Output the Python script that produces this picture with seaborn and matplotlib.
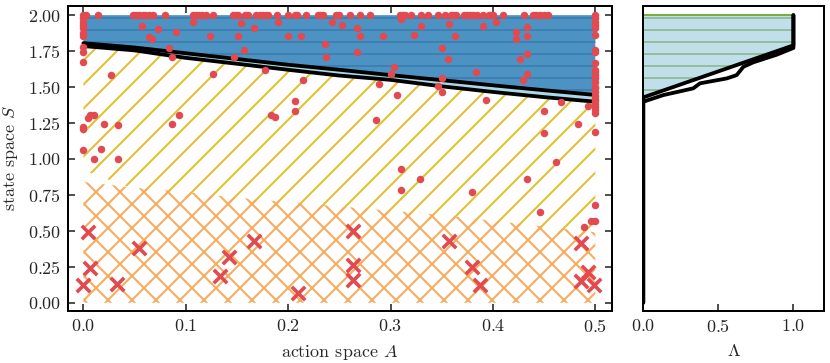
import numpy as np
import pandas as pd
import seaborn as sns
import matplotlib.pyplot as plt

# 样式
sns.set_theme(style='ticks')
plt.rcParams.update({
    'font.family': 'serif',
    'font.serif': ['cmr10'],
    'mathtext.fontset': 'cm',
    'axes.formatter.use_mathtext': True,
    'font.size': 9,
    'axes.labelsize': 9,
    'xtick.labelsize': 9,
    'ytick.labelsize': 9,
    'xtick.direction': 'in',
    'ytick.direction': 'in',
    'xtick.major.size': 3.5,
    'ytick.major.size': 3.5,
    'xtick.major.width': 0.8,
    'ytick.major.width': 0.8,
    'axes.linewidth': 1.0,
    'axes.edgecolor': 'black',
    'hatch.linewidth': 1.0,
})

# 边界曲线 (action x -> state)
bx = [0.0, 0.05, 0.1, 0.15, 0.2, 0.25, 0.3, 0.35, 0.4, 0.45, 0.5]
b_upper = [1.805, 1.775, 1.735, 1.695, 1.655, 1.62, 1.583, 1.548, 1.512, 1.478, 1.445]
b_lower = [1.785, 1.755, 1.703, 1.662, 1.620, 1.580, 1.550, 1.505, 1.466, 1.430, 1.398]
yellow_bottom = [0.92, 0.79, 0.73, 0.69, 0.66, 0.63, 0.60, 0.57, 0.53, 0.49, 0.45]
orange_top = [0.84, 0.80, 0.77, 0.73, 0.70, 0.67, 0.64, 0.61, 0.57, 0.53, 0.49]

# 右图 Lambda 曲线
lam_lin = [0.0, 0.0, 1.0, 1.0]
s_lin = [0.0, 1.428, 1.790, 2.0]
lam_wig = [0.0, 0.0, 0.133, 0.333, 0.378, 0.556, 0.622, 0.667, 0.733, 0.889, 1.0, 1.0]
s_wig = [0.0, 1.398, 1.444, 1.491, 1.526, 1.560, 1.583, 1.641, 1.672, 1.725, 1.772, 2.0]

# 红点
top_x = [0.000, 0.003, 0.014, 0.048, 0.051, 0.054, 0.058, 0.060, 0.064, 0.068, 0.080,
         0.107, 0.110, 0.113, 0.116, 0.120, 0.127, 0.146, 0.149, 0.151, 0.158, 0.161,
         0.169, 0.172, 0.175, 0.178, 0.180, 0.189, 0.200, 0.207, 0.209, 0.217, 0.229,
         0.231, 0.234, 0.247, 0.250, 0.260, 0.270, 0.280, 0.309, 0.312, 0.314, 0.320,
         0.330, 0.337, 0.346, 0.353, 0.359, 0.362, 0.364, 0.372, 0.375, 0.378, 0.381,
         0.384, 0.390, 0.396, 0.398, 0.400, 0.410, 0.430, 0.439, 0.442, 0.446, 0.450,
         0.454, 0.500]
left_col_y = [1.978, 1.954, 1.931, 1.908, 1.873, 1.855, 1.78, 1.745, 1.672, 1.224, 1.206, 1.062]
right_col_y = [1.98, 1.954, 1.931, 1.908, 1.86, 1.757, 1.745, 1.665, 1.62, 1.606, 1.583,
               1.56, 1.537, 1.502, 1.49, 1.465, 1.44, 1.42, 1.40, 1.38, 1.36, 1.34, 1.32, 1.185]
inner_x = [0.057, 0.073, 0.064, 0.067, 0.090, 0.084, 0.087, 0.107, 0.124, 0.147, 0.154,
           0.151, 0.157, 0.167, 0.177, 0.190, 0.200, 0.213, 0.214, 0.236, 0.237, 0.243,
           0.253, 0.267, 0.270, 0.267, 0.293, 0.303, 0.300, 0.289, 0.306, 0.310, 0.330,
           0.323, 0.357, 0.363, 0.350, 0.356, 0.350, 0.346, 0.350, 0.390, 0.403, 0.383,
           0.393, 0.423, 0.423, 0.433, 0.433, 0.433, 0.426, 0.433, 0.429, 0.450, 0.450,
           0.466, 0.483, 0.493, 0.462, 0.433, 0.286, 0.310, 0.329, 0.310, 0.380, 0.446,
           0.489, 0.496, 0.500, 0.500,
           0.004, 0.006, 0.010, 0.020, 0.034, 0.027, 0.017, 0.010, 0.034, 0.087, 0.093,
           0.127, 0.183, 0.187, 0.207, 0.207]
inner_y = [1.926, 1.903, 1.846, 1.834, 1.885, 1.773, 1.710, 1.950, 1.855, 1.706, 1.943,
           1.855, 1.757, 1.912, 1.618, 1.954, 1.855, 1.855, 1.549, 1.797, 1.707, 1.954,
           1.931, 1.908, 1.857, 1.741, 1.852, 1.641, 1.590, 1.521, 1.444, 1.973, 1.926,
           1.862, 1.936, 1.855, 1.769, 1.698, 1.560, 1.508, 1.465, 1.924, 1.950, 1.603,
           1.410, 1.880, 1.832, 1.919, 1.855, 1.727, 1.697, 1.590, 1.549, 1.335, 1.183,
           1.398, 1.243, 1.368, 0.976, 0.863, 1.270, 0.928, 0.864, 0.784, 0.772, 0.632,
           0.530, 0.570, 0.570, 0.677,
           1.284, 1.303, 1.303, 1.244, 1.237, 1.583, 1.068, 0.998, 0.997, 1.241, 1.306,
           1.590, 1.305, 1.295, 1.403, 1.333]

# 红叉
cross_x = [0.004, 0.0065, 0.0, 0.033, 0.054, 0.133, 0.142, 0.167, 0.210, 0.263, 0.263,
           0.263, 0.357, 0.380, 0.387, 0.486, 0.493, 0.486, 0.499]
cross_y = [0.49, 0.239, 0.123, 0.130, 0.383, 0.186, 0.316, 0.431, 0.065, 0.499, 0.262,
           0.158, 0.429, 0.250, 0.123, 0.413, 0.216, 0.151, 0.123]

dots = pd.DataFrame({
    'A': top_x + [0.0] * len(left_col_y) + [0.5] * len(right_col_y) + inner_x,
    'S': [2.0] * len(top_x) + left_col_y + right_col_y + inner_y,
})
crosses = pd.DataFrame({'A': cross_x, 'S': cross_y})

red = '#e34a4f'
fig = plt.figure(figsize=(830 / 144, 363 / 144), dpi=144)
ax = fig.add_axes([0.082, 0.143, 0.655, 0.841])
ax2 = fig.add_axes([0.775, 0.143, 0.218, 0.841], sharey=ax)

# 区域
ax.fill_between(bx, yellow_bottom, b_lower, facecolor='none', edgecolor='#e2bf2c',
                hatch='//', linewidth=0, zorder=1)
ax.fill_between(bx, 0, orange_top, facecolor='none', edgecolor='#fbaa5c',
                hatch='xx', linewidth=0, zorder=1.1)
ax.fill_between(bx, b_upper, 2.0, facecolor='#4c92c3', edgecolor='#3f80b2',
                hatch='--', linewidth=0, zorder=1.2)
ax.fill_between(bx, b_lower, b_upper, color='#add8e6', linewidth=0, zorder=1.3)
ax.plot(bx, b_upper, color='black', lw=1.9, zorder=2)
ax.plot(bx, b_lower, color='black', lw=1.9, zorder=2)

sns.scatterplot(data=dots, x='A', y='S', ax=ax, color=red, s=14, linewidth=0, zorder=3)
sns.scatterplot(data=crosses, x='A', y='S', ax=ax, color=red, marker='x', s=45,
                linewidth=1.8, zorder=3)

ax.set_xlim(-0.015, 0.516)
ax.set_ylim(-0.058, 2.065)
ax.set_xticks([0.0, 0.1, 0.2, 0.3, 0.4, 0.5])
ax.set_yticks([0.0, 0.25, 0.5, 0.75, 1.0, 1.25, 1.5, 1.75, 2.0])
ax.tick_params(top=True, right=True)
ax.set_xlabel('action space $A$')
ax.set_ylabel('state space $S$')

# 右图
fill_s = [1.428, 1.790, 2.0]
fill_lam = [0.0, 1.0, 1.0]
ax2.fill_betweenx(fill_s, 0, fill_lam, facecolor='#c0dfea', edgecolor='#93bf9c',
                  hatch='--', linewidth=0, zorder=1)
ax2.plot([0.0, 1.0], [2.0, 2.0], color='#7aae3e', lw=1.0, zorder=1.5)
ax2.plot(lam_lin, s_lin, color='black', lw=1.9, zorder=2)
ax2.plot(lam_wig, s_wig, color='black', lw=1.9, zorder=2)
ax2.set_xlim(0, 1.205)
ax2.set_xticks([0.0, 0.5, 1.0])
ax2.tick_params(left=False, labelleft=False)
ax2.set_xlabel(r'$\Lambda$')

fig.savefig('out.png', dpi=144)
